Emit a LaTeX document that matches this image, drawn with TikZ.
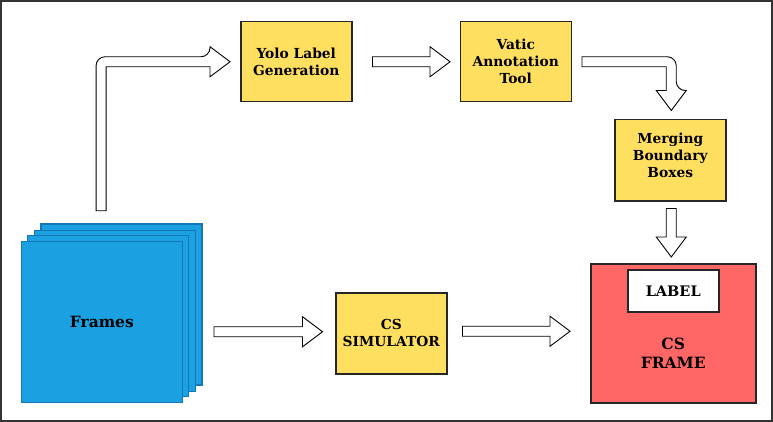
\documentclass[tikz,border=0pt]{standalone}
\usepackage{fontspec}
\setmainfont{DejaVu Serif}
\usetikzlibrary{calc}
\definecolor{boxyellow}{HTML}{FFDF60}
\definecolor{boxred}{HTML}{FF6666}
\definecolor{frameblue}{HTML}{1BA1E2}
\definecolor{frameedge}{HTML}{1577B8}
\definecolor{bordergray}{HTML}{333333}
\tikzset{
  ybox/.style={draw=black!85, line width=1.5pt, fill=boxyellow, anchor=north west, inner sep=0pt,
    align=center, font=\bfseries\fontsize{13.8}{17}\selectfont},
  boxtext/.style={align=center, font=\bfseries\fontsize{13.8}{17}\selectfont, inner sep=0pt},
  framebox/.style={draw=frameedge, line width=1.3pt, fill=frameblue, anchor=north west,
    minimum width=161pt, minimum height=161pt, inner sep=0pt},
  blk/.style={draw=black, line width=0.9pt, fill=white, line join=miter},
}
\newcommand{\hblock}[2]{%
  \draw[blk] let \p1=(#1), \p2=(#2) in
  (\x1,\y2+5pt) -- (\x2-20pt,\y2+5pt) -- (\x2-20pt,\y2+15pt) -- (\x2,\y2) --
  (\x2-20pt,\y2-15pt) -- (\x2-20pt,\y2-5pt) -- (\x1,\y2-5pt) -- cycle;}
\newcommand{\vblock}[2]{%
  \draw[blk] let \p1=(#1), \p2=(#2) in
  (\x2-5pt,\y1) -- (\x2-5pt,\y2+20pt) -- (\x2-15pt,\y2+20pt) -- (\x2,\y2) --
  (\x2+15pt,\y2+20pt) -- (\x2+5pt,\y2+20pt) -- (\x2+5pt,\y1) -- cycle;}
\begin{document}
\begin{tikzpicture}[x=1pt,y=-1pt]
\useasboundingbox (0,0) rectangle (773,422);
\draw[draw=bordergray, line width=2pt] (1,1) rectangle (771.5,420.5);

% frames stack
\node[framebox] (f3) at (40.3,223.3) {};
\node[framebox] (f2) at (33.7,229.5) {};
\node[framebox] (f1) at (27,235) {};
\node[framebox, font=\bfseries\fontsize{15.5}{18}\selectfont] (frames) at (20.7,240.7) {Frames};

% boxes
\node[ybox, minimum width=111pt, minimum height=80pt] (yolo) at (240,21) {Yolo Label\\Generation};
\node[ybox, minimum width=111pt, minimum height=80pt] (vatic) at (459.5,21) {Vatic\\Annotation\\Tool};
\node[ybox, minimum width=111pt, minimum height=81pt] (merge) at (614,119) {};
\node[boxtext] (mergetext) at ($(merge.center)+(0,-5)$) {Merging\\Boundary\\Boxes};
\node[ybox, minimum width=111pt, minimum height=81pt] (csim) at (335,292) {CS\\SIMULATOR};
\node[draw=black!85, line width=1.5pt, fill=boxred, anchor=north west, minimum width=165pt, minimum height=139pt] (csframe) at (590,263) {};
\node[draw=black!85, line width=1.5pt, fill=white, anchor=north west, minimum width=91pt, minimum height=42pt,
  font=\bfseries\fontsize{14.5}{16}\selectfont, inner sep=0pt] (label) at (627,269) {LABEL};
\node[align=center, font=\bfseries\fontsize{15.5}{19}\selectfont] (cstext) at ($(csframe.center)+(0,20)$) {CS\\FRAME};

% arrows
\coordinate (t1) at ($(frames.north)+(-0.8,-30)$);
\coordinate (p1) at ($(yolo.west)+(-10,0)$);
\draw[blk] let \p1=(t1), \p2=(p1) in
  (\x1-5pt,\y1) {[rounded corners=9pt] -- (\x1-5pt,\y2+5pt) -- (\x2-20pt,\y2+5pt)} --
  (\x2-20pt,\y2+15pt) -- (\x2,\y2) -- (\x2-20pt,\y2-15pt) -- (\x2-20pt,\y2-5pt) --
  (\x1+5pt,\y2-5pt) -- (\x1+5pt,\y1) -- cycle;

\coordinate (t2) at ($(yolo.east)+(20,0)$);
\coordinate (p2) at ($(vatic.west)+(-9.5,0)$);
\hblock{t2}{p2}

\coordinate (t3) at ($(vatic.east)+(10,0)$);
\coordinate (p3) at ($(merge.north)+(1,-8.5)$);
\draw[blk] let \p1=(t3), \p2=(p3) in
  (\x1,\y1+5pt) {[rounded corners=9pt] -- (\x2+5pt,\y1+5pt) -- (\x2+5pt,\y2+20pt)} --
  (\x2+15pt,\y2+20pt) -- (\x2,\y2) -- (\x2-15pt,\y2+20pt) -- (\x2-5pt,\y2+20pt) --
  (\x2-5pt,\y1-5pt) -- (\x1,\y1-5pt) -- cycle;

\coordinate (t4) at ($(merge.south)+(0,7)$);
\coordinate (p4) at ($(merge.south |- csframe.north)+(1,-6)$);
\vblock{t4}{p4}

\coordinate (t5) at ($(frames.east)+(31,0)$);
\coordinate (p5) at ($(csim.west)+(-12.5,-1.5)$);
\hblock{t5}{p5}

\coordinate (t6) at ($(csim.east)+(15,0)$);
\coordinate (p6) at ($(csframe.west |- csim.east)+(-20,-2)$);
\hblock{t6}{p6}
\end{tikzpicture}
\end{document}
